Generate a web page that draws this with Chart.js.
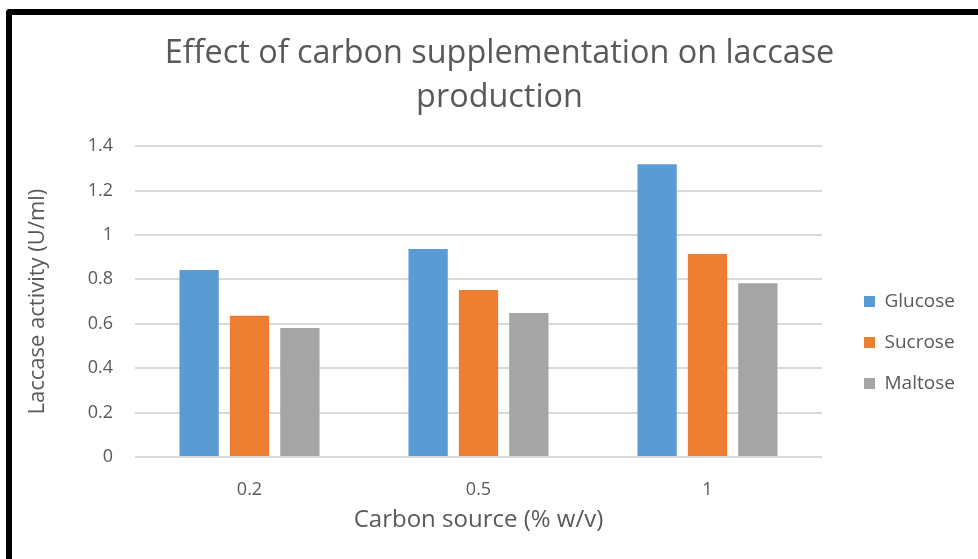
<!DOCTYPE html>
<html>
<head>
<meta charset="utf-8">
<script src="https://cdn.jsdelivr.net/npm/chart.js@4.4.1/dist/chart.umd.min.js"></script>
<style>
  body { margin: 0; background: #fff; }
  #wrap { position: relative; width: 978px; height: 559px; overflow: hidden; }
  #frame {
    position: absolute; left: 6px; top: 9px; width: 1000px; height: 600px;
    border-left: 6px solid #000; border-top: 6px solid #000;
    border-top-left-radius: 4px; pointer-events: none;
  }
</style>
</head>
<body>
<div id="wrap">
  <canvas id="chart" width="978" height="559"></canvas>
  <div id="frame"></div>
</div>
<script>
const categories = ['0.2', '0.5', '1'];
const glucose = [0.842, 0.937, 1.318];
const sucrose = [0.636, 0.752, 0.914];
const maltose = [0.581, 0.648, 0.782];
const yTickLabels = ['0', '0.2', '0.4', '0.6', '0.8', '1', '1.2', '1.4'];

const textColor = '#595959';
const fontFamily = '"Open Sans", "Noto Sans", sans-serif';

// nudge legend and title to where the original has them
const nudge = {
    id: 'nudge',
    afterLayout(chart) {
        const lg = chart.legend;
        lg.left += 20; lg.right += 20;
        lg.top += 63; lg.bottom += 63;
        const t = chart.titleBlock;
        t.left += 17; t.right += 17;
    }
};

const ctx = document.getElementById('chart').getContext('2d');

new Chart(ctx, {
    type: 'bar',
    data: {
        labels: categories,
        datasets: [
            { label: 'Glucose', data: glucose, backgroundColor: '#5b9bd5' },
            { label: 'Sucrose', data: sucrose, backgroundColor: '#ed7d31' },
            { label: 'Maltose', data: maltose, backgroundColor: '#a5a5a5' }
        ]
    },
    plugins: [nudge],
    options: {
        responsive: false,
        animation: false,
        datasets: {
            bar: { categoryPercentage: 0.66, barPercentage: 0.78 }
        },
        layout: { padding: { left: 20, right: 33, top: 0, bottom: 0 } },
        plugins: {
            title: {
                display: true,
                text: ['Effect of carbon supplementation on laccase', 'production'],
                color: textColor,
                font: { family: fontFamily, size: 32.4, weight: 'normal', lineHeight: 1.36 },
                padding: { top: 32, bottom: 26 }
            },
            legend: {
                position: 'right',
                labels: {
                    boxWidth: 11,
                    boxHeight: 11,
                    padding: 22,
                    color: textColor,
                    font: { family: fontFamily, size: 19 }
                }
            },
            tooltip: { enabled: false }
        },
        scales: {
            x: {
                afterFit: s => { s.height = 102; },
                grid: { display: false, drawTicks: false },
                border: { display: false },
                ticks: { color: textColor, padding: 22, font: { family: fontFamily, size: 18 } },
                title: {
                    display: true,
                    text: 'Carbon source (% w/v)',
                    color: textColor,
                    font: { family: fontFamily, size: 24 },
                    padding: { top: 0, bottom: 24 }
                }
            },
            y: {
                min: 0,
                max: 1.4,
                afterFit: s => { s.width = 115; },
                grid: { color: '#d9d9d9', lineWidth: 2, drawTicks: false },
                border: { display: false },
                ticks: {
                    stepSize: 0.2,
                    padding: 22,
                    color: textColor,
                    font: { family: fontFamily, size: 18 },
                    callback: (value, index) => yTickLabels[index]
                },
                title: {
                    display: true,
                    text: 'Laccase activity (U/ml)',
                    color: textColor,
                    font: { family: fontFamily, size: 22 },
                    padding: { top: 5, bottom: 4 }
                }
            }
        }
    }
});
</script>
</body>
</html>
